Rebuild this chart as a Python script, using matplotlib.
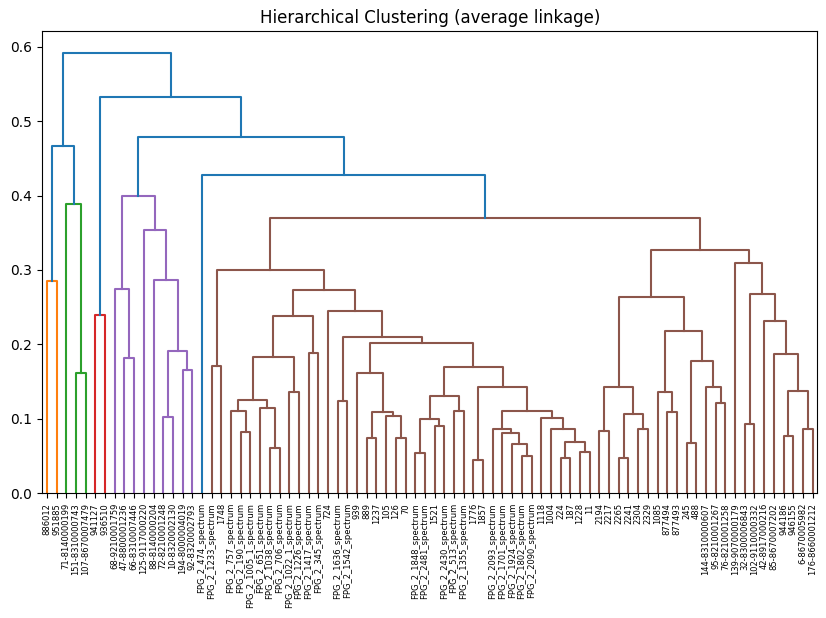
import numpy as np
import matplotlib
matplotlib.use("Agg")
import matplotlib.pyplot as plt

# leaf labels, left to right
labels = [
    "886012", "951885", "71-8140000199", "151-8310000743", "107-8670007479",
    "941127", "936510", "68-9210001759", "47-8800001236", "66-8310007446",
    "125-9117000220", "88-8140000204", "72-8210001248", "10-8320002130",
    "194-8000004019", "92-8320002793", "FPG_2_474_spectrum", "FPG_2_1233_spectrum",
    "1748", "FPG_2_757_spectrum", "FPG_2_190_spectrum", "FPG_2_1005_1_spectrum",
    "FPG_2_651_spectrum", "FPG_2_1038_spectrum", "FPG_2_706_spectrum",
    "FPG_2_1022_1_spectrum", "FPG_2_1226_spectrum", "FPG_2_1417_spectrum",
    "FPG_2_345_spectrum", "724", "FPG_2_1636_spectrum", "FPG_2_1542_spectrum",
    "939", "889", "1237", "105", "126", "70", "FPG_2_1848_spectrum",
    "FPG_2_2481_spectrum", "1521", "FPG_2_2430_spectrum", "FPG_2_513_spectrum",
    "FPG_2_1355_spectrum", "1776", "1857", "FPG_2_2093_spectrum",
    "FPG_2_1701_spectrum", "FPG_2_1924_spectrum", "FPG_2_1802_spectrum",
    "FPG_2_2090_spectrum", "1118", "1004", "224", "187", "1228", "11", "2194",
    "2217", "2265", "2241", "2304", "2329", "1085", "877494", "877493", "245",
    "488", "144-8310000607", "95-8210001267", "76-8210001258", "139-9070000179",
    "32-8300006843", "102-9110000332", "42-8917000216", "85-8670007202",
    "944186", "946155", "6-8670005982", "176-8660001212",
]

# merges: new cluster id = 80 + row index
left_ids = [0, 3, 2, 80, 5, 8, 7, 12, 14, 87, 11, 10, 86,
            17, 20, 19, 23, 22, 95, 25, 98, 27, 100, 30, 33, 36, 35, 104, 32,
            38, 40, 109, 42, 111, 44, 49, 48, 47, 46, 53, 55, 119, 52, 51, 118,
            114, 113, 108, 103, 29, 102, 93,
            57, 59, 61, 133, 132, 64, 63, 66, 69, 68, 139, 138, 136,
            72, 76, 78, 146, 75, 74, 145, 71, 144, 131, 16, 92, 84, 83]
right_ids = [1, 4, 81, 82, 6, 9, 85, 13, 15, 88, 89, 90, 91,
             18, 21, 94, 24, 96, 97, 26, 99, 28, 101, 31, 34, 37, 105, 106, 107,
             39, 41, 110, 43, 112, 45, 50, 115, 116, 117, 54, 56, 120, 121, 122, 123,
             124, 125, 126, 127, 128, 129, 130,
             58, 60, 62, 134, 135, 65, 137, 67, 70, 140, 141, 142, 143,
             73, 77, 79, 147, 148, 149, 150, 151, 152, 153, 154, 155, 156, 157]
heights = [0.285, 0.161, 0.388, 0.467, 0.239, 0.182, 0.275, 0.102, 0.165, 0.191,
           0.287, 0.354, 0.399,
           0.171, 0.0825, 0.110, 0.0606, 0.114, 0.125, 0.136, 0.1835, 0.188, 0.238,
           0.124, 0.0745, 0.0745, 0.1036, 0.1095, 0.162, 0.0543, 0.0902, 0.0996,
           0.1108, 0.1306, 0.0444, 0.0503, 0.0664, 0.0812, 0.0866, 0.0475, 0.055,
           0.069, 0.0866, 0.1014, 0.1108, 0.1427, 0.169, 0.202, 0.2104, 0.2454,
           0.273, 0.300,
           0.0839, 0.0471, 0.0861, 0.1068, 0.143, 0.109, 0.136, 0.0673, 0.1216,
           0.143, 0.1777, 0.2185, 0.2638,
           0.0933, 0.0767, 0.0861, 0.1373, 0.187, 0.232, 0.268, 0.3096, 0.327,
           0.370, 0.427, 0.479, 0.533, 0.591]

n = len(labels)
xpos = {i: 5 + 10 * i for i in range(n)}
hgt = {i: 0.0 for i in range(n)}
for k, (a, b, h) in enumerate(zip(left_ids, right_ids, heights)):
    xpos[n + k] = (xpos[a] + xpos[b]) / 2
    hgt[n + k] = h

threshold = 0.7 * max(heights)
palette = ["C1", "C2", "C3", "C4", "C5", "C6", "C7", "C8", "C9"]
color = {}
ci = 0


def paint(node, c):
    if node < n:
        return
    color[node] = c
    k = node - n
    paint(left_ids[k], c)
    paint(right_ids[k], c)


# walk top-down, left to right, to assign cluster colours like scipy
def walk(node):
    global ci
    if node < n:
        return
    k = node - n
    if heights[k] >= threshold:
        color[node] = "C0"
        walk(left_ids[k])
        walk(right_ids[k])
    else:
        paint(node, palette[ci % len(palette)])
        ci += 1


walk(n + len(heights) - 1)

fig = plt.figure(figsize=(8.26, 6.18), dpi=100)
ax = fig.add_axes([0.0509, 0.2018, 0.9388, 0.7474])
for k, (a, b, h) in enumerate(zip(left_ids, right_ids, heights)):
    ax.plot([xpos[a], xpos[a], xpos[b], xpos[b]], [hgt[a], h, h, hgt[b]],
            color=color[n + k], linewidth=1.5)

ax.set_xlim(0, 10 * n)
ax.set_ylim(0, max(heights) * 1.05)
ax.set_xticks([xpos[i] for i in range(n)])
ax.set_xticklabels(labels, rotation=90, fontsize=6)
ax.set_title("Hierarchical Clustering (average linkage)")
fig.savefig("out.png", dpi=100)
